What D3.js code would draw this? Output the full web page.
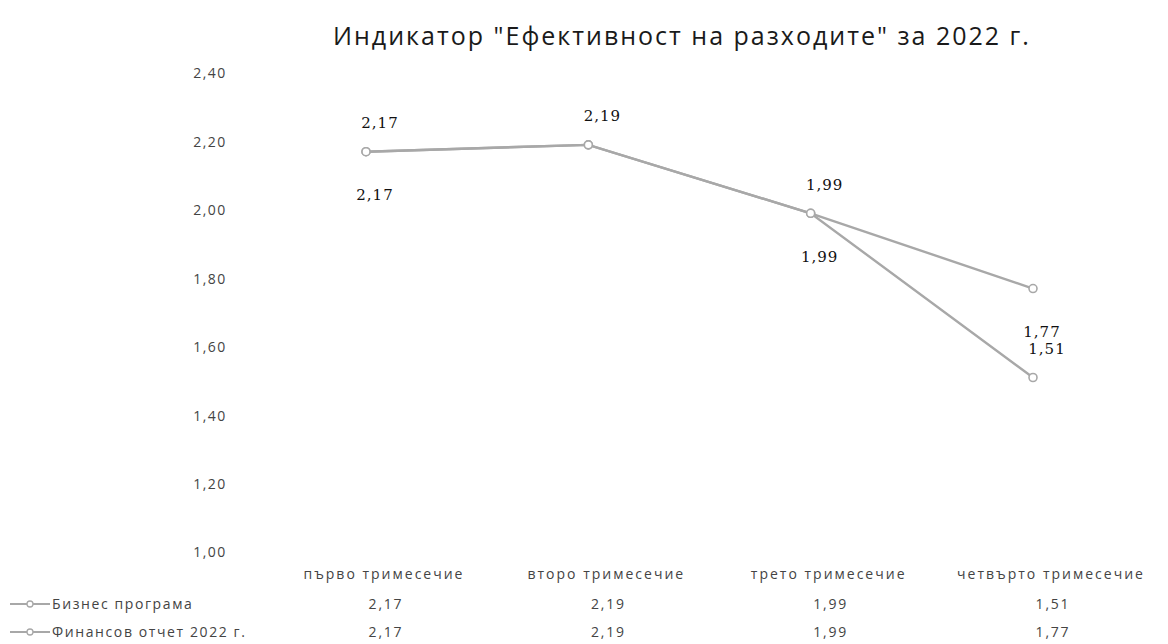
<!DOCTYPE html>
<html><head><meta charset="utf-8">
<script src="https://cdn.jsdelivr.net/npm/d3@7"></script>
<style>body{margin:0;background:#fff}svg{display:block}</style>
</head><body><svg id="c" width="1168" height="644"></svg>
<script>
const title = 'Индикатор "Ефективност на разходите" за 2022 г.';
const categories = ["първо тримесечие","второ тримесечие","трето тримесечие","четвърто тримесечие"];
const seriesNames = ["Бизнес програма","Финансов отчет 2022 г."];
const biznes = [2.17, 2.19, 1.99, 1.51];
const finansov = [2.17, 2.19, 1.99, 1.77];
const biznesLabels = [2.17, 2.19, 1.99, 1.51];
const finansovLabels = [2.17, null, 1.99, 1.77];
const yTicks = [1.0, 1.2, 1.4, 1.6, 1.8, 2.0, 2.2, 2.4];

const fmt = v => d3.format(".2f")(v).replace(".", ",");
const svg = d3.select("#c");
const x = d3.scalePoint().domain(categories).range([366, 1033]);
const y = d3.scaleLinear().domain([1.0, 2.4]).range([552, 73]);
const grey = "#a8a8a8", txt = "#444";
const sf = "Open Sans, Liberation Sans, sans-serif";

svg.append("text").attr("x", 682).attr("y", 45).attr("text-anchor","middle")
  .attr("font-family",sf).attr("letter-spacing",2.0)
  .attr("font-size",25).attr("fill","#1a1a1a").text(title);

const yAxis = d3.axisLeft(y).tickValues(yTicks).tickFormat(fmt).tickSize(0).tickPadding(0);
const ga = svg.append("g").attr("transform","translate(210,0)").call(yAxis);
ga.select(".domain").remove();
ga.selectAll("text").attr("font-family",sf).attr("font-size",14).attr("letter-spacing",1.5)
  .attr("text-anchor","middle").attr("fill",txt).attr("dy","0.35em");

const line = d3.line().x((d,i)=>x(categories[i])).y(d=>y(d));
[biznes, finansov].forEach(s=>{
  svg.append("path").datum(s).attr("d", line).attr("fill","none").attr("stroke",grey).attr("stroke-width",2.4);
  svg.selectAll(null).data(s).enter().append("circle")
    .attr("cx",(d,i)=>x(categories[i])).attr("cy",d=>y(d)).attr("r",4)
    .attr("fill","#fff").attr("stroke",grey).attr("stroke-width",1.6);
});

const lbl = (arr, dy, dx) => svg.selectAll(null).data(arr.map((v,i)=>({v,i})).filter(d=>d.v!=null)).enter().append("text")
  .attr("x", d=>x(categories[d.i]) + dx).attr("y", d=>y(d.v) + dy)
  .attr("text-anchor","middle").attr("dy","0.35em")
  .attr("font-family","DejaVu Serif, Liberation Serif, serif").attr("font-size",15).attr("letter-spacing",1)
  .attr("fill","#111").text(d=>fmt(d.v));
lbl(biznesLabels, -29, 14);
lbl(finansovLabels, 43, 9);

// data table
svg.selectAll(null).data(categories).enter().append("text")
  .attr("x", d=>x(d)+18).attr("y",574).attr("dy","0.35em").attr("text-anchor","middle")
  .attr("font-family",sf).attr("font-size",14).attr("letter-spacing",2).attr("fill",txt).text(d=>d);
[[seriesNames[0], biznes, 604],[seriesNames[1], finansov, 632]].forEach(([name, vals, ry])=>{
  svg.append("line").attr("x1",10).attr("x2",50).attr("y1",ry).attr("y2",ry).attr("stroke",grey).attr("stroke-width",2);
  svg.append("circle").attr("cx",30).attr("cy",ry).attr("r",3).attr("fill","#fff").attr("stroke",grey).attr("stroke-width",1.3);
  svg.append("text").attr("x",52).attr("y",ry).attr("dy","0.35em").attr("font-family",sf).attr("font-size",14)
    .attr("letter-spacing",1.6).attr("fill",txt).text(name);
  svg.selectAll(null).data(vals).enter().append("text")
    .attr("x",(d,i)=>x(categories[i])+20).attr("y",ry).attr("dy","0.35em").attr("text-anchor","middle")
    .attr("font-family",sf).attr("font-size",14).attr("letter-spacing",1.8).attr("fill",txt).text(d=>fmt(d));
});
</script></body></html>
